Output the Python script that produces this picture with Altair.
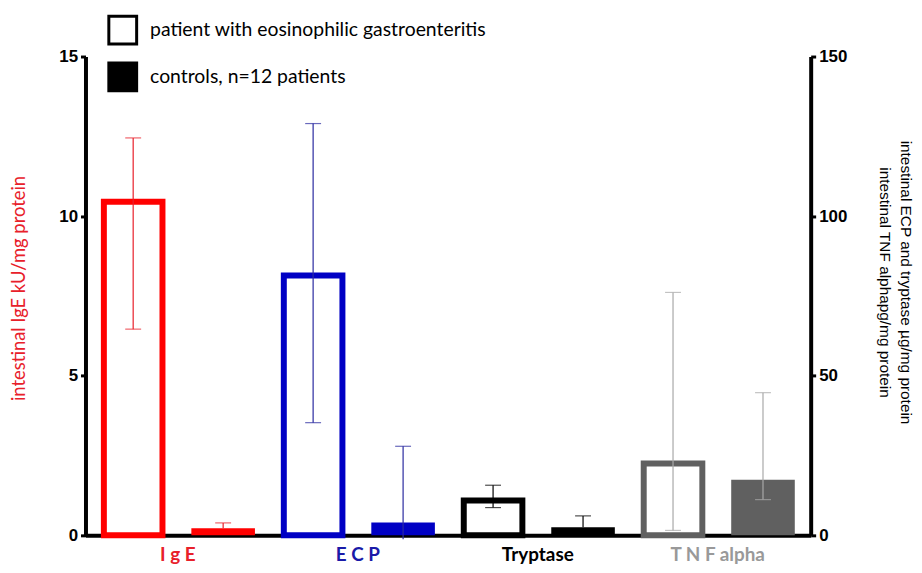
import altair as alt
import pandas as pd

groups = ["IgE", "ECP", "Tryptase", "TNF alpha"]
group_labels = ["I g E", "E C P", "Tryptase", "T N F alpha"]
bar_colors = ["#ff0000", "#0000c4", "#000000", "#606060"]
error_colors = ["#e8202a", "#2a2aa0", "#000000", "#a8a8a8"]
label_colors = ["#e8202a", "#1a1aa8", "#000000", "#999999"]
series = ["patient with eosinophilic gastroenteritis", "controls, n=12 patients"]

patient_mean = [10.45, 81.4, 10.9, 22.5]
patient_upper = [12.45, 129.0, 15.7, 76.1]
patient_lower = [6.46, 35.3, 8.7, 1.55]
control_mean = [0.22, 4.0, 2.5, 17.4]
control_upper = [0.39, 27.9, 6.1, 44.7]
control_lower = [None, -1.2, None, 11.2]

rows, caps, labels = [], [], []
order = []
for i, g in enumerate(groups):
    for s, mean, up, lo in (
        (series[0], patient_mean[i], patient_upper[i], patient_lower[i]),
        (series[1], control_mean[i], control_upper[i], control_lower[i]),
    ):
        key = f"{g}|{s}"
        order.append(key)
        rows.append(dict(key=key, group=g, series=s, mean=mean, upper=up,
                         low=(lo if lo is not None else mean),
                         color=bar_colors[i], ecolor=error_colors[i],
                         patient=(s == series[0])))
        caps.append(dict(key=key, group=g, v=up, ecolor=error_colors[i]))
        if lo is not None and lo >= 0:
            caps.append(dict(key=key, group=g, v=lo, ecolor=error_colors[i]))
    labels.append(dict(key=f"{g}|{series[0]}", text=group_labels[i], lcolor=label_colors[i]))

df = pd.DataFrame(rows)
cap_df = pd.DataFrame(caps)
lab_df = pd.DataFrame(labels)
leg_df = pd.DataFrame({"series": series})

W, H = 730, 482

x_enc = alt.X("key:N", scale=alt.Scale(domain=order, paddingInner=0.3, paddingOuter=0.18),
              axis=alt.Axis(labels=False, ticks=False, title=None, domainColor="black",
                            domainWidth=4, grid=False))


def build(sub_df, sub_caps, yscale, yaxis):
    base_p = alt.Chart(sub_df[sub_df["patient"]])
    base_c = alt.Chart(sub_df[~sub_df["patient"]])
    patient = base_p.mark_bar(fill="white", strokeWidth=6, size=59).encode(
        x=x_enc,
        y=alt.Y("mean:Q", scale=yscale, axis=yaxis),
        stroke=alt.Color("color:N", scale=None),
    )
    control = base_c.mark_bar(size=64).encode(
        x=x_enc,
        y=alt.Y("mean:Q", scale=yscale, axis=yaxis),
        fill=alt.Color("color:N", scale=None),
    )
    rule = alt.Chart(sub_df).mark_rule(strokeWidth=1.2).encode(
        x=x_enc,
        y=alt.Y("low:Q", scale=yscale, axis=yaxis),
        y2="upper:Q",
        color=alt.Color("ecolor:N", scale=None),
    )
    cap = alt.Chart(sub_caps).mark_tick(size=16, thickness=1.2).encode(
        x=x_enc,
        y=alt.Y("v:Q", scale=yscale, axis=yaxis),
        color=alt.Color("ecolor:N", scale=None),
    )
    return alt.layer(patient, control, rule, cap)


axis_common = dict(domainColor="black", domainWidth=4, tickColor="black", tickWidth=3,
                   tickSize=5, labelFont="Liberation Sans", labelFontWeight="bold",
                   labelFontSize=17, labelColor="black", labelPadding=3, grid=False)

left_axis = alt.Axis(orient="left", values=[0, 5, 10, 15], title="intestinal IgE kU/mg protein",
                     titleColor="#e8202a", titleFont="Lato", titleFontSize=18.5,
                     titleFontWeight="normal", titlePadding=30, titleY=233, **axis_common)
right_axis = alt.Axis(orient="right", values=[0, 50, 100, 150],
                      title=["intestinal ECP and tryptase µg/mg protein",
                             "intestinal TNF alphapg/mg protein"],
                      titleColor="black", titleFont="Liberation Sans", titleFontSize=15.5,
                      titleFontWeight="normal", titlePadding=30, titleLineHeight=21,
                      titleY=227, **axis_common)

layer_a = build(df[df["group"] == "IgE"], cap_df[cap_df["group"] == "IgE"],
                alt.Scale(domain=[0, 15], nice=False, zero=True), left_axis)
layer_b = build(df[df["group"] != "IgE"], cap_df[cap_df["group"] != "IgE"],
                alt.Scale(domain=[0, 150], nice=False, zero=True), right_axis)

text = alt.Chart(lab_df).mark_text(font="Lato", fontWeight="bold", fontSize=19, dx=45,
                                   baseline="middle").encode(
    x=x_enc,
    y=alt.value(H + 20),
    text="text:N",
    color=alt.Color("lcolor:N", scale=None),
)

legend = alt.Chart(leg_df).mark_point(shape="square", filled=True, opacity=0, size=1).encode(
    fill=alt.Fill("series:N", scale=alt.Scale(domain=series, range=["white", "black"]),
                  legend=alt.Legend(orient="none", legendX=22, legendY=-42, title=None,
                                    symbolType="square", symbolSize=784, symbolStrokeColor="black",
                                    symbolStrokeWidth=3, symbolOpacity=1, labelFont="Lato",
                                    labelFontSize=19.5, labelColor="black", labelOffset=12,
                                    rowPadding=6, padding=0, labelLimit=500)),
)

chart = alt.layer(layer_a, layer_b, text, legend).resolve_scale(y="independent").resolve_axis(
    y="independent").properties(
    width=W, height=H,
    padding={"left": 78, "top": 47, "right": 104, "bottom": 28},
    autosize=alt.AutoSizeParams(type="none"),
).configure_view(stroke=None)

chart.save("out.html", embed_options={"renderer": "svg", "actions": False})
